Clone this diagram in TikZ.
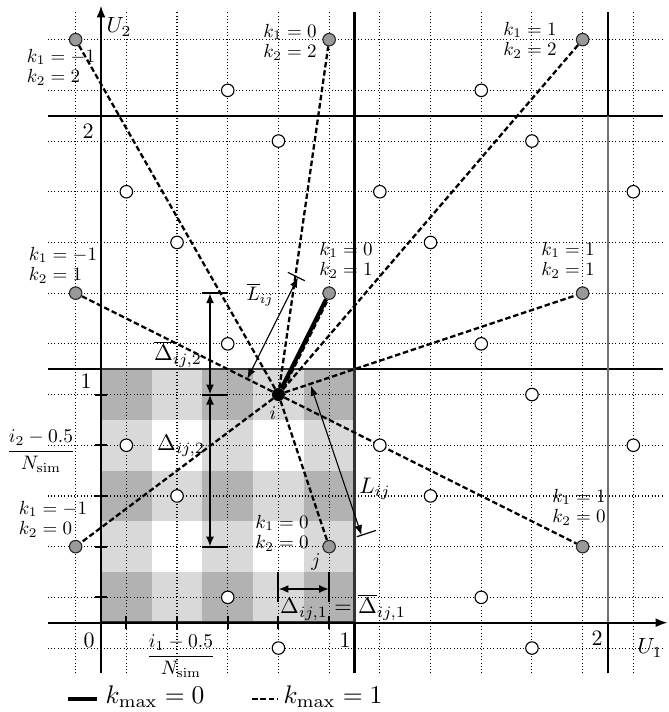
\documentclass[tikz,border=0pt]{standalone}
\usepackage{amsmath}
\usetikzlibrary{arrows.meta,calc}
\pgfdeclarelayer{back}
\pgfdeclarelayer{mid}
\pgfsetlayers{back,mid,main}
\begin{document}
\begin{tikzpicture}[x=253.5pt,y=253.5pt,
  wpt/.style={circle,draw=black,fill=white,line width=1.1pt,inner sep=0pt,minimum size=12.5pt},
  gpt/.style={circle,draw=black!85,fill=black!40,line width=1.1pt,inner sep=0pt,minimum size=12.5pt},
  ipt/.style={circle,fill=black,inner sep=0pt,minimum size=13pt},
  gridline/.style={line width=1.1pt,dash pattern=on 1pt off 2.3pt},
  solidline/.style={line width=2.2pt},
  dline/.style={line width=2.3pt,dash pattern=on 5.5pt off 2.8pt},
  dimarrow/.style={line width=1.8pt,{Latex[length=10pt,width=8pt]}-{Latex[length=10pt,width=8pt]}},
  thinarrow/.style={line width=1.1pt,{Latex[length=10pt,width=7.5pt]}-{Latex[length=10pt,width=7.5pt]}},
  tickline/.style={line width=2pt},
  klab/.style={align=left,inner sep=0pt,scale=1.9,font=\fontsize{10}{10.6}\selectfont},
  numlab/.style={inner sep=0pt,scale=2.2},
  dlab/.style={inner sep=0pt,scale=1.95},
  biglab/.style={inner sep=0pt,scale=2.25},
  leglab/.style={inner sep=0pt,scale=2.55},
]
% pixel scope for bounding box
\begin{scope}[x=1pt,y=-1pt,shift={(-101pt,622.7pt)}]
  \useasboundingbox (0,0) rectangle (668,712);
\end{scope}

\begin{pgfonlayer}{back}
  % checkerboard
  \fill[black!15] (0,0) rectangle (1,1);
  \foreach \c in {0,0.4,0.8}{\foreach \r in {0,0.4,0.8}{\fill[black!30] (\c,\r) rectangle ++(0.2,0.2);}}
  \foreach \c in {0.2,0.6}{\foreach \r in {0.2,0.6}{\fill[white] (\c,\r) rectangle ++(0.2,0.2);}}
  % dotted grid
  \foreach \k in {0,...,11}{\draw[gridline] ({-0.1+0.2*\k},-0.2) -- ({-0.1+0.2*\k},2.415);}
  \foreach \k in {0,...,12}{\draw[gridline] (-0.21,{-0.1+0.2*\k}) -- (2.215,{-0.1+0.2*\k});}
  % solid lines
  \draw[solidline] (-0.21,1) -- (2.215,1);
  \draw[solidline] (-0.21,2) -- (2.215,2);
  \draw[solidline] (1,-0.2) -- (1,2.41);
  \draw[solidline] (2,2) -- (2,2.41);
  \draw[solidline] (2,-0.2) -- (2,0);
  \draw[line width=1.4pt,black!55] (2,0) -- (2,2);
  \draw[line width=2.6pt,black!80] (0,0) rectangle (1,1);
  % axes
  \draw[solidline,-{Latex[length=12pt,width=9pt]}] (-0.21,0) -- (2.235,0);
  \draw[solidline,-{Latex[length=12pt,width=9pt]}] (0,-0.2) -- (0,2.435);
  % axis ticks
  \foreach \k in {0,...,4}{
    \draw[tickline] ({0.1+0.2*\k},-0.025) -- ++(0,0.05);
    \draw[tickline] (-0.025,{0.1+0.2*\k}) -- ++(0.05,0);
  }
\end{pgfonlayer}

% image points of j
\node[gpt] (gm10) at (-0.1,0.3) {};
\node[gpt] (gm11) at (-0.1,1.3) {};
\node[gpt] (gm12) at (-0.1,2.3) {};
\node[gpt] (g00) at (0.9,0.3) {};
\node[gpt] (g01) at (0.9,1.3) {};
\node[gpt] (g02) at (0.9,2.3) {};
\node[gpt] (g10) at (1.9,0.3) {};
\node[gpt] (g11) at (1.9,1.3) {};
\node[gpt] (g12) at (1.9,2.3) {};
% point i
\node[ipt] (i) at (0.7,0.9) {};
% other points
\foreach \p/\x/\y in {w1/0.1/0.7,w2/0.3/0.5,w3/0.5/0.1,w4/0.7/-0.1,
  w5/1.1/0.7,w6/1.3/0.5,w7/1.5/0.1,w8/1.7/0.9,w9/1.7/-0.1,w10/2.1/0.7,
  w11/0.1/1.7,w12/0.3/1.5,w13/0.5/1.1,w14/0.7/1.9,w15/1.1/1.7,w16/1.3/1.5,
  w17/1.5/1.1,w18/1.7/1.9,w19/2.1/1.7,w20/0.5/2.1,w21/1.5/2.1}{
  \node[wpt] (\p) at (\x,\y) {};
}

% connectors
\begin{pgfonlayer}{mid}
  \foreach \n in {gm10,gm11,gm12,g00,g02,g10,g11,g12}{\draw[dline] (i) -- (\n);}
  \draw[line width=4pt] (i) -- (g01);
  \draw[dline,transform canvas={xshift=2pt}] (i) -- (g01);

  % Delta_2 dimension arrows
  \coordinate (d2top) at (0.43,1.3);
  \coordinate (d2mid) at (0.43,0.9);
  \coordinate (d2bot) at (0.43,0.3);
  \draw[dimarrow] (d2top) -- (d2mid);
  \draw[dimarrow] (d2mid) -- (d2bot);
  \draw[tickline] (0.4,1.3) -- (0.5,1.3);
  \draw[tickline] (0.4,0.9) -- (0.5,0.9);
  \draw[tickline] (0.4,0.3) -- (0.5,0.3);

  % Delta_1 dimension arrow
  \coordinate (d1l) at (0.7,0.133);
  \coordinate (d1r) at (0.9,0.133);
  \draw[dimarrow] (d1l) -- (d1r);
  \draw[tickline] (0.7,0.08) -- (0.7,0.2);
  \draw[tickline] (0.9,0.08) -- (0.9,0.2);

  % L_ij
  \coordinate (Ls) at (0.828,0.935);
  \coordinate (Le) at (1.028,0.345);
  \draw[thinarrow] (Ls) -- (Le);
  \draw[line width=1.2pt] (1.009,0.339) -- (1.085,0.364);

  % bar L_ij
  \coordinate (Lbs) at (0.577,0.962);
  \coordinate (Lbe) at (0.777,1.362);
  \draw[thinarrow] (Lbs) -- (Lbe);
  \draw[line width=1.2pt] (0.804,1.349) -- (0.737,1.382);
\end{pgfonlayer}

% labels in pixel coordinates
\begin{scope}[x=1pt,y=-1pt,shift={(-101pt,622.7pt)}]
  \node[klab] (lm12) at (61,67) {$k_1=-1$\\$k_2=2$};
  \node[klab] (l02) at (290,42) {$k_1=0$\\$k_2=2$};
  \node[klab] (l12) at (530,40) {$k_1=1$\\$k_2=2$};
  \node[klab] (lm11) at (63,265) {$k_1=-1$\\$k_2=1$};
  \node[klab] (l01) at (346,260) {$k_1=0$\\$k_2=1$};
  \node[klab] (l11) at (568,260) {$k_1=1$\\$k_2=1$};
  \node[klab] (lm10) at (53,519) {$k_1=-1$\\$k_2=0$};
  \node[klab] (l00) at (282,533) {$k_1=0$\\$k_2=0$};
  \node[klab] (l10) at (579,507) {$k_1=1$\\$k_2=0$};

  \node[numlab] (n2v) at (88,131) {2};
  \node[numlab] (n1v) at (86,381) {1};
  \node[numlab] (n0) at (89,640) {0};
  \node[numlab] (n1h) at (345,640) {1};
  \node[numlab] (n2h) at (597,638) {2};
  \node[numlab] (U2) at (119,27) {$U_2$};
  \node[numlab] (U1) at (650,648) {$U_1$};

  \node[dlab] (fr2) at (41,451) {$\dfrac{i_2-0.5}{N_\mathrm{sim}}$};
  \node[dlab] (fr1) at (181,656) {$\dfrac{i_1-0.5}{N_\mathrm{sim}}$};

  \node[biglab] (lDb2) at (178,354) {$\overline{\Delta}_{ij,2}$};
  \node[biglab] (lD2) at (181,446) {$\Delta_{ij,2}$};
  \node[biglab] (lD1) at (343,607) {$\Delta_{ij,1}=\overline{\Delta}_{ij,1}$};
  \node[dlab] (lLb) at (260,295) {$\overline{L}_{ij}$};
  \node[biglab] (lL) at (375,489) {$L_{ij}$};
  \node[dlab] (li) at (273,413) {$i$};
  \node[dlab] (lj) at (316,562) {$j$};

  % legend
  \coordinate (ls1) at (68,699);
  \coordinate (ls2) at (97,699);
  \draw[line width=4pt] (ls1) -- (ls2);
  \node[leglab,anchor=west] (leg0) at (105,697) {$k_\mathrm{max}=0$};
  \coordinate (ld1) at (252,699);
  \coordinate (ld2) at (278,699);
  \draw[dline] (ld1) -- (ld2);
  \node[leglab,anchor=west] (leg1) at (283,697) {$k_\mathrm{max}=1$};
\end{scope}
\end{tikzpicture}
\end{document}
